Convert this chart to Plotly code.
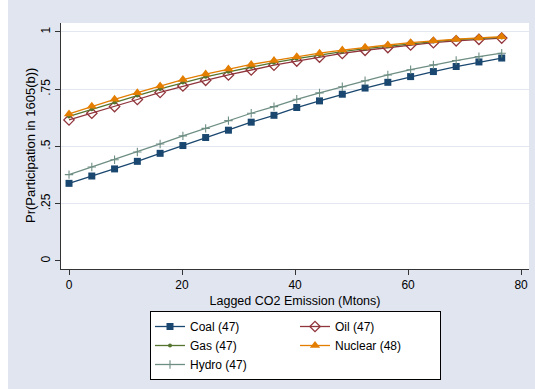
import plotly.graph_objects as go

# Lagged CO2 emission (Mtons) at which the predicted probabilities are evaluated
emission = [0, 4.03, 8.06, 12.09, 16.12, 20.15, 24.18, 28.21, 32.24, 36.27,
            40.3, 44.33, 48.36, 52.39, 56.42, 60.45, 64.48, 68.51, 72.54, 76.57]

# Predicted Pr(participation in 1605(b)) by fuel type
coal = [0.339, 0.371, 0.402, 0.435, 0.470, 0.504, 0.539, 0.571, 0.606, 0.636,
        0.670, 0.699, 0.728, 0.755, 0.780, 0.805, 0.827, 0.849, 0.869, 0.886]
oil = [0.616, 0.645, 0.674, 0.705, 0.736, 0.764, 0.789, 0.812, 0.834, 0.855,
       0.873, 0.890, 0.906, 0.920, 0.932, 0.943, 0.953, 0.961, 0.968, 0.973]
gas = [0.631, 0.662, 0.692, 0.722, 0.751, 0.779, 0.804, 0.826, 0.847, 0.866,
       0.883, 0.899, 0.914, 0.927, 0.938, 0.949, 0.958, 0.966, 0.972, 0.976]
nuclear = [0.642, 0.675, 0.706, 0.735, 0.764, 0.792, 0.816, 0.838, 0.858, 0.875,
           0.892, 0.907, 0.921, 0.933, 0.943, 0.953, 0.962, 0.968, 0.974, 0.979]
hydro = [0.377, 0.410, 0.442, 0.476, 0.511, 0.546, 0.579, 0.613, 0.645, 0.674,
         0.706, 0.734, 0.761, 0.787, 0.812, 0.835, 0.856, 0.875, 0.892, 0.907]

series_names = ["Coal (47)", "Oil (47)", "Gas (47)", "Nuclear (48)", "Hydro (47)"]

y_ticks = [0, 0.25, 0.5, 0.75, 1]
y_tick_text = ["0", ".25", ".5", ".75", "1"]
x_ticks = [0, 20, 40, 60, 80]

W, H = 535, 389
ML, MR, MT, MB = 61, 6, 23, 120
PW, PH = W - ML - MR, H - MT - MB

BG = "#e1e5f0"

fig = go.Figure()

styles = [
    (coal, "#1a476f", dict(symbol="square", size=7, color="#1a476f"), "a"),
    (oil, "#90353b", dict(symbol="diamond-open", size=8, color="#90353b",
                          line=dict(width=1.3, color="#90353b")), "b"),
    (gas, "#55752f", dict(symbol="circle", size=4, color="#55752f"), "a"),
    (nuclear, "#e37e00", dict(symbol="triangle-up", size=9, color="#e37e00"), "b"),
    (hydro, "#6e8e84", dict(symbol="cross-thin-open", size=6, color="#6e8e84",
                            line=dict(width=1.1, color="#6e8e84")), "a"),
]

for (vals, col, mk, grp), name in zip(styles, series_names):
    fig.add_trace(go.Scatter(
        x=emission, y=vals, name=name, mode="lines+markers",
        line=dict(color=col, width=1.3), marker=mk, legendgroup=grp,
    ))

# white strips framing the light graph region
fig.add_shape(type="rect", xref="paper", yref="paper",
              x0=-ML / PW - 0.01, x1=(W - ML) / PW + 0.01,
              y0=(MB + PH) / PH - 10 / PH, y1=(MB + PH) / PH + 0.01,
              fillcolor="white", line_width=0, layer="below")
fig.add_shape(type="rect", xref="paper", yref="paper",
              x0=-ML / PW - 0.01, x1=-ML / PW + 8 / PW,
              y0=-MB / PH - 0.01, y1=(MB + PH) / PH + 0.01,
              fillcolor="white", line_width=0, layer="below")

# vertical axis title
fig.add_annotation(
    text="Pr(Participation in 1605(b))", textangle=-90,
    xref="paper", yref="paper",
    x=(30 - ML) / PW, y=0.5,
    xanchor="center", yanchor="middle", showarrow=False,
    font=dict(size=13),
)

fig.update_layout(
    width=W, height=H,
    margin=dict(l=ML, r=MR, t=MT, b=MB, pad=0),
    paper_bgcolor=BG, plot_bgcolor="white",
    font=dict(family="Liberation Sans, Arial, sans-serif", size=12, color="black"),
    showlegend=True,
    legend=dict(
        orientation="h", traceorder="grouped",
        x=(150 - ML) / PW, xanchor="left",
        y=-(311 - MT - PH) / PH, yanchor="top",
        bgcolor="white", bordercolor="black", borderwidth=1,
        font=dict(size=12), entrywidth=100, entrywidthmode="pixels",
    ),
    xaxis=dict(
        range=[-1.42, 81.4], tickvals=x_ticks, showgrid=False, zeroline=False,
        showline=True, linecolor="#333333", linewidth=1,
        ticks="outside", ticklen=5, tickcolor="#333333",
        title=dict(text="Lagged CO2 Emission (Mtons)", standoff=4, font=dict(size=12.5)),
    ),
    yaxis=dict(
        range=[-0.035, 1.039], tickvals=y_ticks, ticktext=y_tick_text,
        tickangle=-90, showgrid=False, zeroline=False,
        showline=True, linecolor="#333333", linewidth=1,
        ticks="outside", ticklen=5, tickcolor="#333333",
        minor=dict(tickvals=[0.25, 0.5, 0.75, 1], showgrid=True,
                   gridcolor="#e3e8f0", gridwidth=1, ticks=""),
    ),
)

fig.write_html("out.html")
